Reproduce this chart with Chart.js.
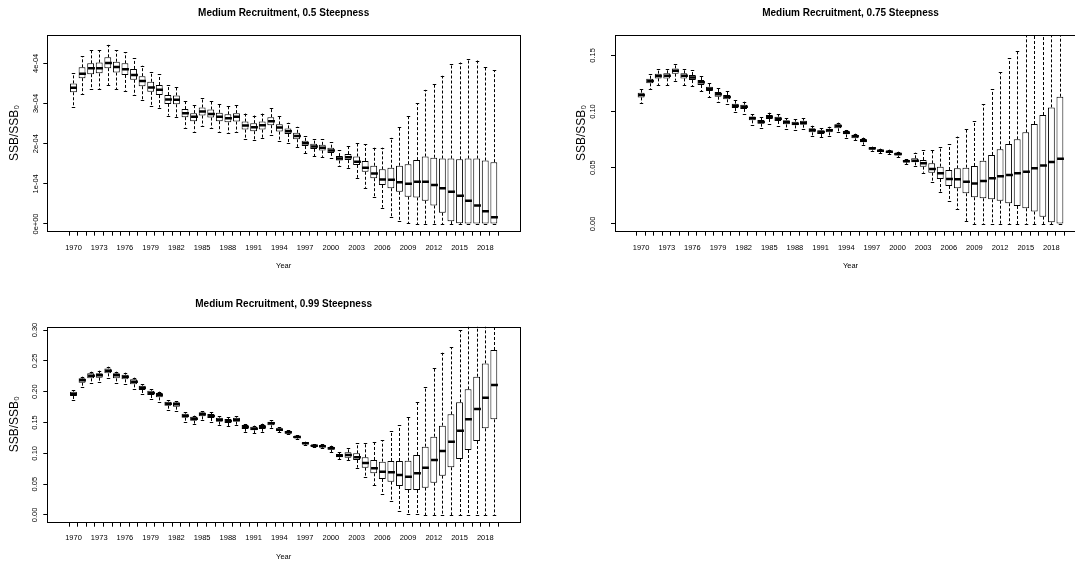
<!DOCTYPE html>
<html>
<head>
<meta charset="utf-8">
<script src="https://cdn.jsdelivr.net/npm/chart.js@4.4.1/dist/chart.umd.min.js"></script>
<style>
  html, body { margin: 0; padding: 0; background: #fff; width: 1075px; height: 564px; overflow: hidden; }
  .panel { position: absolute; }
  .panel canvas { display: block; }
</style>
</head>
<body>
<div class="panel" style="left:0;top:0"><canvas id="p1" width="540" height="282"></canvas></div>
<div class="panel" style="left:540px;top:0"><canvas id="p2" width="560" height="282"></canvas></div>
<div class="panel" style="left:0;top:282px"><canvas id="p3" width="540" height="282"></canvas></div>
<script>
const FONT = "'Liberation Sans', Arial, Helvetica, sans-serif";

// ---- data ----
const years = [1970, 1971, 1972, 1973, 1974, 1975, 1976, 1977, 1978, 1979,
  1980, 1981, 1982, 1983, 1984, 1985, 1986, 1987, 1988, 1989,
  1990, 1991, 1992, 1993, 1994, 1995, 1996, 1997, 1998, 1999,
  2000, 2001, 2002, 2003, 2004, 2005, 2006, 2007, 2008, 2009,
  2010, 2011, 2012, 2013, 2014, 2015, 2016, 2017, 2018, 2019];
const xLabelYears = [1970, 1973, 1976, 1979, 1982, 1985, 1988, 1991, 1994, 1997, 2000, 2003, 2006, 2009, 2012, 2015, 2018];

// 0.5 steepness
const p1Hi = [3.75e-4, 4.17e-4, 4.32e-4, 4.32e-4, 4.46e-4, 4.32e-4, 4.27e-4, 4.12e-4, 3.94e-4, 3.79e-4,
  3.73e-4, 3.46e-4, 3.42e-4, 3.06e-4, 2.96e-4, 3.13e-4, 3.07e-4, 2.98e-4, 2.93e-4, 2.96e-4,
  2.75e-4, 2.70e-4, 2.75e-4, 2.88e-4, 2.70e-4, 2.52e-4, 2.42e-4, 2.18e-4, 2.11e-4, 2.11e-4,
  2.03e-4, 1.84e-4, 1.94e-4, 2.01e-4, 1.98e-4, 1.90e-4, 1.90e-4, 2.15e-4, 2.41e-4, 2.68e-4,
  3.00e-4, 3.34e-4, 3.48e-4, 3.69e-4, 3.98e-4, 4.02e-4, 4.10e-4, 4.07e-4, 3.92e-4, 3.83e-4];
const p1Q3 = [3.50e-4, 3.90e-4, 4.00e-4, 4.02e-4, 4.15e-4, 4.04e-4, 4.00e-4, 3.86e-4, 3.68e-4, 3.54e-4,
  3.46e-4, 3.21e-4, 3.20e-4, 2.86e-4, 2.76e-4, 2.90e-4, 2.85e-4, 2.77e-4, 2.73e-4, 2.76e-4,
  2.55e-4, 2.51e-4, 2.55e-4, 2.66e-4, 2.48e-4, 2.38e-4, 2.27e-4, 2.07e-4, 2.00e-4, 1.97e-4,
  1.90e-4, 1.69e-4, 1.74e-4, 1.68e-4, 1.57e-4, 1.45e-4, 1.36e-4, 1.40e-4, 1.45e-4, 1.49e-4,
  1.59e-4, 1.68e-4, 1.65e-4, 1.63e-4, 1.63e-4, 1.61e-4, 1.63e-4, 1.63e-4, 1.58e-4, 1.54e-4];
const p1Med = [3.39e-4, 3.74e-4, 3.88e-4, 3.88e-4, 4.01e-4, 3.91e-4, 3.85e-4, 3.71e-4, 3.56e-4, 3.40e-4,
  3.34e-4, 3.10e-4, 3.09e-4, 2.76e-4, 2.67e-4, 2.80e-4, 2.74e-4, 2.67e-4, 2.63e-4, 2.67e-4,
  2.45e-4, 2.41e-4, 2.46e-4, 2.56e-4, 2.40e-4, 2.31e-4, 2.19e-4, 2.01e-4, 1.93e-4, 1.90e-4,
  1.83e-4, 1.63e-4, 1.66e-4, 1.55e-4, 1.40e-4, 1.26e-4, 1.11e-4, 1.10e-4, 1.04e-4, 1.00e-4,
  1.05e-4, 1.05e-4, 0.97e-4, 0.89e-4, 0.80e-4, 0.70e-4, 0.58e-4, 0.46e-4, 0.32e-4, 0.17e-4];
const p1Q1 = [3.28e-4, 3.63e-4, 3.73e-4, 3.75e-4, 3.88e-4, 3.77e-4, 3.71e-4, 3.59e-4, 3.43e-4, 3.29e-4,
  3.21e-4, 2.99e-4, 2.98e-4, 2.66e-4, 2.56e-4, 2.70e-4, 2.65e-4, 2.56e-4, 2.53e-4, 2.55e-4,
  2.35e-4, 2.31e-4, 2.35e-4, 2.46e-4, 2.30e-4, 2.24e-4, 2.11e-4, 1.94e-4, 1.87e-4, 1.83e-4,
  1.77e-4, 1.58e-4, 1.59e-4, 1.47e-4, 1.30e-4, 1.14e-4, 0.97e-4, 0.89e-4, 0.80e-4, 0.68e-4,
  0.66e-4, 0.58e-4, 0.46e-4, 0.28e-4, 0.07e-4, 0.02e-4, 0, 0, 0, 0];
const p1Lo = [2.92e-4, 3.24e-4, 3.36e-4, 3.36e-4, 3.46e-4, 3.36e-4, 3.32e-4, 3.21e-4, 3.08e-4, 2.94e-4,
  2.90e-4, 2.70e-4, 2.67e-4, 2.40e-4, 2.30e-4, 2.44e-4, 2.38e-4, 2.30e-4, 2.27e-4, 2.29e-4,
  2.12e-4, 2.09e-4, 2.13e-4, 2.22e-4, 2.07e-4, 2.02e-4, 1.92e-4, 1.76e-4, 1.69e-4, 1.67e-4,
  1.65e-4, 1.44e-4, 1.40e-4, 1.15e-4, 0.90e-4, 0.68e-4, 0.41e-4, 0.18e-4, 0.08e-4, 0.02e-4,
  0, 0, 0, 0, 0, 0, 0, 0, 0, 0];
const p1YTicks = [0, 1e-4, 2e-4, 3e-4, 4e-4];
const p1YLabels = ['0e+00', '1e-04', '2e-04', '3e-04', '4e-04'];

// 0.75 steepness
const p2Hi = [0.1197, 0.1334, 0.1375, 0.1375, 0.1423, 0.1375, 0.1366, 0.1319, 0.1257, 0.1206,
  0.1183, 0.1100, 0.1088, 0.0975, 0.0948, 0.0990, 0.0975, 0.0940, 0.0931, 0.0940,
  0.0874, 0.0851, 0.0865, 0.0901, 0.0836, 0.0803, 0.0768, 0.0688, 0.0670, 0.0661,
  0.0643, 0.0578, 0.0634, 0.0655, 0.0655, 0.0682, 0.0711, 0.0777, 0.0842, 0.0916,
  0.1064, 0.1197, 0.1349, 0.1473, 0.1541, 0.175, 0.190, 0.205, 0.220, 0.240];
const p2Q3 = [0.1168, 0.1292, 0.1337, 0.1340, 0.1384, 0.1340, 0.1325, 0.1280, 0.1221, 0.1174,
  0.1147, 0.1070, 0.1061, 0.0957, 0.0925, 0.0969, 0.0954, 0.0922, 0.0910, 0.0919,
  0.0851, 0.0833, 0.0848, 0.0886, 0.0827, 0.0794, 0.0756, 0.0682, 0.0661, 0.0652,
  0.0634, 0.0569, 0.0584, 0.0569, 0.0539, 0.0510, 0.0480, 0.0495, 0.0501, 0.0516,
  0.0563, 0.0614, 0.0664, 0.0711, 0.0753, 0.0815, 0.0889, 0.0969, 0.1037, 0.1132];
const p2Med = [0.1147, 0.1272, 0.1316, 0.1319, 0.1363, 0.1319, 0.1304, 0.1260, 0.1203, 0.1153,
  0.1129, 0.1052, 0.1043, 0.0940, 0.0907, 0.0951, 0.0937, 0.0904, 0.0892, 0.0901,
  0.0833, 0.0818, 0.0833, 0.0871, 0.0812, 0.0780, 0.0741, 0.0673, 0.0652, 0.0643,
  0.0622, 0.0557, 0.0563, 0.0539, 0.0489, 0.0451, 0.0400, 0.0397, 0.0376, 0.0359,
  0.0382, 0.0406, 0.0424, 0.0436, 0.0451, 0.0465, 0.0495, 0.0519, 0.0551, 0.0581];
const p2Q1 = [0.1126, 0.1251, 0.1295, 0.1295, 0.1337, 0.1295, 0.1280, 0.1236, 0.1183, 0.1132,
  0.1109, 0.1031, 0.1023, 0.0922, 0.0892, 0.0934, 0.0916, 0.0886, 0.0877, 0.0883,
  0.0815, 0.0800, 0.0815, 0.0851, 0.0797, 0.0762, 0.0726, 0.0661, 0.0640, 0.0631,
  0.0608, 0.0548, 0.0548, 0.0510, 0.0456, 0.0400, 0.0338, 0.0317, 0.0273, 0.0237,
  0.0228, 0.0219, 0.0207, 0.0184, 0.0160, 0.0139, 0.0110, 0.0065, 0.0015, 0];
const p2Lo = [0.1073, 0.1197, 0.1236, 0.1236, 0.1275, 0.1236, 0.1227, 0.1183, 0.1129, 0.1082,
  0.1064, 0.0993, 0.0981, 0.0880, 0.0851, 0.0892, 0.0874, 0.0848, 0.0836, 0.0845,
  0.0785, 0.0771, 0.0785, 0.0815, 0.0768, 0.0744, 0.0705, 0.0652, 0.0631, 0.0619,
  0.0596, 0.0534, 0.0516, 0.0456, 0.0376, 0.0288, 0.0205, 0.0133, 0.0027, 0,
  0, 0, 0, 0, 0, 0, 0, 0, 0, 0];
const p2YTicks = [0, 0.05, 0.10, 0.15];
const p2YLabels = ['0.00', '0.05', '0.10', '0.15'];

// 0.99 steepness
const p3Hi = [0.2027, 0.2243, 0.2324, 0.2341, 0.2405, 0.2324, 0.2308, 0.2227, 0.2124, 0.2043,
  0.2000, 0.1865, 0.1849, 0.1665, 0.1611, 0.1686, 0.1665, 0.1605, 0.1584, 0.1605,
  0.1476, 0.1449, 0.1481, 0.1535, 0.1422, 0.1373, 0.1297, 0.1189, 0.1151, 0.1146,
  0.1124, 0.1016, 0.1081, 0.1162, 0.1162, 0.1189, 0.1216, 0.1362, 0.1459, 0.1584,
  0.1838, 0.2081, 0.2378, 0.2632, 0.2719, 0.3000, 0.32, 0.34, 0.36, 0.38];
const p3Q3 = [0.2000, 0.2216, 0.2297, 0.2297, 0.2378, 0.2297, 0.2276, 0.2200, 0.2097, 0.2016,
  0.1978, 0.1838, 0.1827, 0.1643, 0.1595, 0.1665, 0.1638, 0.1578, 0.1557, 0.1578,
  0.1459, 0.1432, 0.1459, 0.1514, 0.1405, 0.1362, 0.1281, 0.1178, 0.1141, 0.1130,
  0.1103, 0.0989, 0.1016, 0.1000, 0.0935, 0.0892, 0.0865, 0.0876, 0.0876, 0.0881,
  0.0973, 0.1108, 0.1270, 0.1449, 0.1632, 0.1827, 0.2038, 0.2243, 0.2459, 0.2676];
const p3Med = [0.1962, 0.2184, 0.2259, 0.2265, 0.2341, 0.2265, 0.2243, 0.2162, 0.2065, 0.1978,
  0.1946, 0.1805, 0.1795, 0.1611, 0.1562, 0.1632, 0.1605, 0.1546, 0.1524, 0.1546,
  0.1427, 0.1400, 0.1427, 0.1486, 0.1384, 0.1341, 0.1265, 0.1162, 0.1124, 0.1114,
  0.1081, 0.0962, 0.0973, 0.0935, 0.0843, 0.0757, 0.0703, 0.0692, 0.0649, 0.0622,
  0.0676, 0.0768, 0.0892, 0.1038, 0.1189, 0.1368, 0.1551, 0.1719, 0.1903, 0.2108];
const p3Q1 = [0.1930, 0.2146, 0.2216, 0.2227, 0.2297, 0.2216, 0.2200, 0.2119, 0.2027, 0.1946,
  0.1908, 0.1773, 0.1757, 0.1578, 0.1530, 0.1600, 0.1573, 0.1514, 0.1492, 0.1514,
  0.1395, 0.1373, 0.1395, 0.1454, 0.1362, 0.1319, 0.1243, 0.1146, 0.1108, 0.1097,
  0.1059, 0.0935, 0.0930, 0.0892, 0.0768, 0.0676, 0.0584, 0.0541, 0.0470, 0.0405,
  0.0405, 0.0443, 0.0524, 0.0638, 0.0773, 0.0908, 0.1054, 0.1200, 0.1405, 0.1551];
const p3Lo = [0.1865, 0.2070, 0.2141, 0.2151, 0.2216, 0.2141, 0.2119, 0.2049, 0.1962, 0.1881,
  0.1838, 0.1703, 0.1686, 0.1514, 0.1470, 0.1541, 0.1508, 0.1459, 0.1443, 0.1459,
  0.1351, 0.1330, 0.1351, 0.1416, 0.1341, 0.1308, 0.1232, 0.1135, 0.1097, 0.1081,
  0.1022, 0.0908, 0.0892, 0.0768, 0.0622, 0.0486, 0.0341, 0.0232, 0.0065, 0.0016,
  0.0016, 0, 0, 0, 0, 0, 0, 0, 0, 0];
const p3YTicks = [0, 0.05, 0.10, 0.15, 0.20, 0.25, 0.30];
const p3YLabels = ['0.00', '0.05', '0.10', '0.15', '0.20', '0.25', '0.30'];

// ---- whiskers, staples, medians and the plot frame (R boxplot look) ----
function boxplotLayer(st) {
  return {
    id: 'rBoxplot',
    afterDatasetsDraw(chart) {
      const { ctx, chartArea: a, scales: { x, y } } = chart;
      const unit = x.getPixelForValue(years[1]) - x.getPixelForValue(years[0]);
      ctx.save();
      ctx.beginPath();
      ctx.rect(a.left, a.top, a.right - a.left, a.bottom - a.top);
      ctx.clip();
      ctx.strokeStyle = '#000';
      years.forEach((yr, i) => {
        const cx = Math.round(x.getPixelForValue(yr)) + 0.5;
        const pHi = y.getPixelForValue(st.hi[i]);
        const pQ3 = y.getPixelForValue(st.q3[i]);
        const pQ1 = y.getPixelForValue(st.q1[i]);
        const pLo = y.getPixelForValue(st.lo[i]);
        const pMed = y.getPixelForValue(st.med[i]);

        ctx.lineWidth = 1;
        ctx.setLineDash([3, 2]);
        ctx.beginPath();
        ctx.moveTo(cx, pQ3); ctx.lineTo(cx, pHi);
        ctx.moveTo(cx, pQ1); ctx.lineTo(cx, pLo);
        ctx.stroke();

        ctx.setLineDash([]);
        const cap = unit * 0.2;
        ctx.beginPath();
        ctx.moveTo(cx - cap, Math.round(pHi) + 0.5); ctx.lineTo(cx + cap, Math.round(pHi) + 0.5);
        ctx.moveTo(cx - cap, Math.round(pLo) + 0.5); ctx.lineTo(cx + cap, Math.round(pLo) + 0.5);
        ctx.stroke();

        const half = unit * 0.4;
        ctx.lineWidth = 2.5;
        ctx.beginPath();
        ctx.moveTo(cx - half, pMed); ctx.lineTo(cx + half, pMed);
        ctx.stroke();
      });
      ctx.restore();

      ctx.save();
      ctx.strokeStyle = '#000';
      ctx.lineWidth = 1;
      ctx.strokeRect(Math.round(a.left) + 0.5, Math.round(a.top) + 0.5,
        Math.round(a.right - a.left), Math.round(a.bottom - a.top));
      ctx.restore();
    }
  };
}

function makePanel(id, cfg) {
  const st = cfg.stats;
  new Chart(document.getElementById(id), {
    type: 'bar',
    data: {
      datasets: [{
        data: years.map((yr, i) => ({ x: yr, y: [st.q1[i], st.q3[i]] })),
        backgroundColor: '#fff',
        borderColor: '#000',
        borderWidth: 1,
        borderSkipped: false,
        barPercentage: 0.8,
        categoryPercentage: 1
      }]
    },
    options: {
      responsive: false,
      animation: false,
      events: [],
      layout: { padding: cfg.pad },
      plugins: {
        legend: { display: false },
        tooltip: { enabled: false },
        title: {
          display: true,
          text: cfg.title,
          fullSize: false,
          color: '#000',
          font: { family: FONT, size: 10, weight: 'bold' },
          padding: cfg.titlePad
        }
      },
      scales: {
        x: {
          type: 'linear',
          min: 1967.5,
          max: 2021.5,
          afterBuildTicks: (s) => { s.ticks = years.map((v) => ({ value: v })); },
          afterFit: (s) => { s.height = cfg.xHeight; },
          ticks: {
            autoSkip: false, minRotation: 0, maxRotation: 0,
            padding: cfg.xPad, color: '#000',
            font: { family: FONT, size: 7.5 },
            callback: (v) => (xLabelYears.includes(v) ? String(v) : '')
          },
          grid: { drawOnChartArea: false, drawTicks: true, tickLength: 5, color: '#000', lineWidth: 1 },
          border: { display: false },
          title: {
            display: true, text: 'Year', color: '#000',
            font: { family: FONT, size: 7.5 },
            padding: { top: 0, bottom: cfg.yearPad }
          }
        },
        y: {
          type: 'linear',
          min: cfg.yMin,
          max: cfg.yMax,
          afterBuildTicks: (s) => { s.ticks = cfg.yTicks.map((v) => ({ value: v })); },
          afterFit: (s) => { s.width = cfg.yWidth; },
          ticks: {
            autoSkip: false, minRotation: 90, maxRotation: 90, crossAlign: 'center',
            padding: cfg.yPad, color: '#000',
            font: { family: FONT, size: 7.5 },
            callback: (v, i) => cfg.yLabels[i]
          },
          grid: { drawOnChartArea: false, drawTicks: true, tickLength: 4, color: '#000', lineWidth: 1 },
          border: { display: false },
          title: {
            display: true, text: 'SSB/SSB\u2080', color: '#000',
            font: { family: FONT, size: 12 },
            padding: { top: cfg.yTitlePad, bottom: 0 }
          }
        }
      }
    },
    plugins: [boxplotLayer(st)]
  });
}

makePanel('p1', {
  title: 'Medium Recruitment, 0.5 Steepness',
  stats: { hi: p1Hi, q3: p1Q3, med: p1Med, q1: p1Q1, lo: p1Lo },
  yTicks: p1YTicks, yLabels: p1YLabels,
  yMin: -0.167e-4, yMax: 4.705e-4,
  pad: { left: 0, right: 20, top: 0, bottom: 0 },
  titlePad: { top: 7.3, bottom: 15.7 },
  xHeight: 51.3, xPad: 8, yearPad: 11.5,
  yWidth: 47.3, yPad: -3.2, yTitlePad: 7.8
});

makePanel('p2', {
  title: 'Medium Recruitment, 0.75 Steepness',
  stats: { hi: p2Hi, q3: p2Q3, med: p2Med, q1: p2Q1, lo: p2Lo },
  yTicks: p2YTicks, yLabels: p2YLabels,
  yMin: -0.006, yMax: 0.1681,
  pad: { left: 0, right: 14, top: 0, bottom: 0 },
  titlePad: { top: 7.3, bottom: 15.7 },
  xHeight: 51.3, xPad: 8, yearPad: 11.5,
  yWidth: 75, yPad: 10.4, yTitlePad: 34.5
});

makePanel('p3', {
  title: 'Medium Recruitment, 0.99 Steepness',
  stats: { hi: p3Hi, q3: p3Q3, med: p3Med, q1: p3Q1, lo: p3Lo },
  yTicks: p3YTicks, yLabels: p3YLabels,
  yMin: -0.0109, yMax: 0.3054,
  pad: { left: 0, right: 20, top: 0, bottom: 0 },
  titlePad: { top: 16, bottom: 16.7 },
  xHeight: 42.3, xPad: 7, yearPad: 2.8,
  yWidth: 47.3, yPad: 1, yTitlePad: 7.8
});
</script>
</body>
</html>
